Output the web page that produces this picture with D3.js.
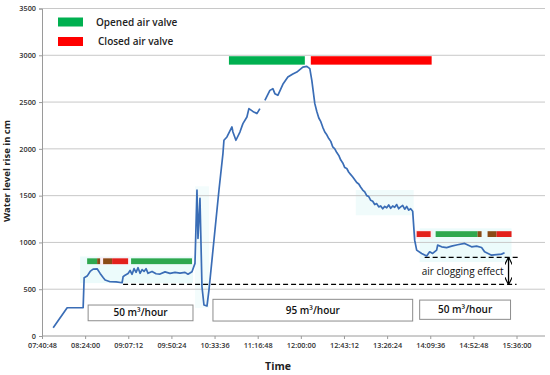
<!DOCTYPE html>
<html>
<head>
<meta charset="utf-8">
<script src="https://cdn.jsdelivr.net/npm/d3@7"></script>
<style>
  body { margin: 0; background: #fff; }
  svg text { font-family: "Open Sans", "Liberation Sans", sans-serif; }
</style>
</head>
<body>
<div id="chart"></div>
<script>
// measured water level (time of day, cm); null marks the gap in the record
const lineTimes = ["07:52","08:06","08:22","08:23","08:26","08:29","08:32","08:36","08:39","08:42","08:44","08:49","08:55","09:01","09:02","09:04","09:07",
  "09:09","09:11","09:13","09:15","09:17","09:19","09:21","09:23","09:25","09:27","09:31","09:35","09:39","09:44","09:49","09:54","09:59","10:04","10:07","10:11","10:14",
  "10:16","10:17","10:19","10:21","10:23","10:26","10:28","10:38","10:42","10:43","10:46","10:51","10:52","10:55","10:59","11:02","11:06","11:08","11:12","11:16","11:19","11:21",
  "11:24","11:29","11:32","11:34","11:37","11:42","11:47","11:52","11:56","12:02","12:06","12:09","12:11","12:14",
  "12:16","12:18","12:20","12:22","12:24","12:26","12:28","12:30","12:32","12:34","12:36","12:38","12:40","12:42","12:44","12:46","12:48","12:50","12:52","12:54","12:56","12:58","13:00","13:02",
  "13:04","13:06","13:08","13:10","13:12","13:14","13:16","13:18","13:20","13:22","13:24","13:26","13:28","13:30","13:32","13:34","13:36","13:38","13:40","13:42","13:44","13:46","13:48","13:50","13:52",
  "13:54","13:56","14:01","14:06","14:09","14:12","14:16","14:17","14:21","14:26","14:31",
  "14:37","14:44","14:51","14:56","15:01","15:04","15:08","15:11","15:16","15:21","15:24"];
const lineValues = [89,302,302,622,640,690,715,718,669,625,598,580,578,569,633,650,669,
  700,660,720,680,730,670,710,690,720,670,690,665,662,685,670,680,672,680,660,686,776,
  1558,1043,1470,526,331,320,491,1558,1950,2092,2127,2234,2180,2092,2180,2270,2340,2430,2400,2377,2430,null,
  2519,2625,2643,2590,2572,2690,2767,2800,2821,2874,2881,2857,2732,2483,
  2400,2330,2290,2230,2180,2150,2110,2080,2020,2000,1960,1930,1880,1850,1800,1790,1750,1725,1700,1670,1640,1625,1590,1560,
  1540,1500,1490,1450,1440,1405,1415,1380,1390,1360,1385,1370,1400,1365,1390,1375,1405,1360,1380,1395,1355,1385,1345,1360,1334,
  1024,918,882,854,900,882,918,971,953,945,960,
  975,989,953,960,946,900,880,864,870,875,889];

// air valve state bars
const valveStarts = ["10:48","12:10","08:26","08:36","08:42","08:51","09:10","13:56","14:15","14:57","15:07","15:16"];
const valveEnds   = ["12:04","14:11","08:36","08:39","08:51","09:07","10:11","14:10","14:57","15:01","15:16","15:31"];
const valveStates = ["open","closed","open","switch","switch","closed","open","closed","open","switch","switch","closed"];
const valveLevels = [2945,2945,797,797,797,797,797,1087,1087,1087,1087,1087];

// flow rate labels
const flowLabels = ["50 m³/hour","95 m³/hour","50 m³/hour"];
const flowStarts = ["08:27","10:32","13:59"];
const flowEnds   = ["10:12","13:52","15:30"];

const yTicks = [0,500,1000,1500,2000,2500,3000,3500];
const xTickLabels = ["07:40:48","08:24:00","09:07:12","09:50:24","10:33:36","11:16:48","12:00:00","12:43:12","13:26:24","14:09:36","14:52:48","15:36:00"];

const toMin = s => { const p = s.split(":").map(Number); return p[0]*60 + p[1] + (p[2] || 0)/60; };

const width = 550, height = 375;
const margin = { top: 8.5, right: 5, bottom: 39, left: 42 };
const W = width - margin.left - margin.right, H = height - margin.top - margin.bottom;

const svg = d3.select("#chart").append("svg").attr("width", width).attr("height", height);
const g = svg.append("g").attr("transform", `translate(${margin.left},${margin.top})`);

const x = d3.scaleLinear().domain([toMin("07:40:48"), toMin("07:40:48") + 43.2*11.66]).range([0, W]);
const y = d3.scaleLinear().domain([0, 3500]).range([H, 0]);

const colors = { open: "#2ea84f", closed: "#e3201b", switch: "#8a4b16" };

// faint highlight areas
const hl = [["08:19","10:12",565,850,"#ecfbfb"],["10:14","10:28",300,1600,"#f3fcfc"],["12:55","13:53",1290,1560,"#f0fbfb"],["13:59","15:31",790,1150,"#ecfbfb"],["08:39","09:08",760,840,"#fcebf4"],["13:54","14:12",1040,1130,"#fcecf2"]];
g.selectAll("rect.hl").data(hl).join("rect").attr("class","hl")
  .attr("x", d => x(toMin(d[0]))).attr("width", d => x(toMin(d[1])) - x(toMin(d[0])))
  .attr("y", d => y(d[3])).attr("height", d => y(d[2]) - y(d[3]))
  .attr("fill", d => d[4]);

// gridlines
g.selectAll("line.grid").data(yTicks.slice(1)).join("line").attr("class","grid")
  .attr("x1", 0).attr("x2", W).attr("y1", d => y(d)).attr("y2", d => y(d))
  .attr("stroke", "#c8c8c8").attr("stroke-width", 1);

// axes
const yAxis = g.append("g").call(d3.axisLeft(y).tickValues(yTicks).tickSize(3).tickFormat(d3.format("d")));
const xTickVals = xTickLabels.map(toMin);
const xAxis = g.append("g").attr("transform", `translate(0,${H})`)
  .call(d3.axisBottom(x).tickValues(xTickVals).tickSize(3).tickFormat((d, i) => xTickLabels[i]));
[yAxis, xAxis].forEach(a => {
  a.select(".domain").attr("stroke", "#9a9a9a");
  a.selectAll(".tick line").attr("stroke", "#9a9a9a");
  a.selectAll("text").attr("font-size", 7.3).attr("font-weight", 600).attr("fill", "#333");
});
xAxis.select(".domain").attr("d", `M0,0H${W}`);
yAxis.selectAll("text").attr("x", -6);
xAxis.selectAll("text").attr("y", 7);

// valve bars
g.selectAll("rect.valve").data(valveStarts).join("rect").attr("class","valve")
  .attr("x", (d, i) => x(toMin(d)))
  .attr("width", (d, i) => x(toMin(valveEnds[i])) - x(toMin(d)))
  .attr("y", (d, i) => y(valveLevels[i] + (i < 2 ? 45 : 33)))
  .attr("height", (d, i) => y(0) - y(i < 2 ? 90 : 62))
  .attr("fill", (d, i) => i < 2 ? (valveStates[i] === "open" ? "#00b050" : "#ff0000") : colors[valveStates[i]]);

// dashed reference lines
const dashes = [["14:04","15:39",840],["09:02","15:36",552]];
g.selectAll("line.dash").data(dashes).join("line").attr("class","dash")
  .attr("x1", d => x(toMin(d[0]))).attr("x2", d => x(toMin(d[1])))
  .attr("y1", d => y(d[2])).attr("y2", d => y(d[2]))
  .attr("stroke", "#000").attr("stroke-width", 1.4).attr("stroke-dasharray", "5,3");

// double arrow for clogging effect
svg.append("defs").append("marker").attr("id", "ah").attr("viewBox", "0 0 10 10")
  .attr("refX", 9).attr("refY", 5).attr("markerWidth", 6).attr("markerHeight", 6).attr("orient", "auto-start-reverse")
  .append("path").attr("d", "M0,0L10,5L0,10").attr("fill", "none").attr("stroke", "#000").attr("stroke-width", 1.5);
g.append("line").attr("x1", x(toMin("15:28"))).attr("x2", x(toMin("15:28")))
  .attr("y1", y(835)).attr("y2", y(557)).attr("stroke", "#000").attr("stroke-width", 1.3)
  .attr("marker-start", "url(#ah)").attr("marker-end", "url(#ah)");
g.append("text").attr("x", x(toMin("14:42"))).attr("y", y(690)).attr("dy", "0.35em")
  .attr("text-anchor", "middle").attr("font-size", 10).attr("fill", "#111").text("air clogging effect");

// water level line
const pts = lineTimes.map((t, i) => ({ t: toMin(t), v: lineValues[i] }));
g.append("path").datum(pts)
  .attr("fill", "none").attr("stroke", "#3a6db6").attr("stroke-width", 1.7).attr("stroke-linejoin", "round")
  .attr("d", d3.line().defined(d => d.v !== null).x(d => x(d.t)).y(d => y(d.v)));

// flow rate boxes
const boxTop = [331, 392, 384], boxBot = [163, 160, 178];
flowLabels.forEach((lab, i) => {
  const x0 = x(toMin(flowStarts[i])), x1 = x(toMin(flowEnds[i]));
  g.append("rect").attr("x", x0).attr("y", y(boxTop[i])).attr("width", x1 - x0).attr("height", y(boxBot[i]) - y(boxTop[i]))
    .attr("fill", "#fff").attr("stroke", "#8c8c8c").attr("stroke-width", 1);
  g.append("text").attr("x", (x0 + x1) / 2).attr("y", (y(boxTop[i]) + y(boxBot[i])) / 2).attr("dy", "0.35em")
    .attr("text-anchor", "middle").attr("font-size", 10).attr("font-weight", 600).attr("fill", "#111").text(lab);
});

// legend
const legend = svg.append("g");
[["Opened air valve", "#00b050", 22], ["Closed air valve", "#ff0000", 41.5]].forEach((d, i) => {
  legend.append("rect").attr("x", 58).attr("y", d[2] - 4.5).attr("width", 25).attr("height", 9).attr("fill", d[1]);
  legend.append("text").attr("x", i ? 98 : 96).attr("y", d[2]).attr("dy", "0.35em")
    .attr("font-size", 10).attr("font-weight", 600).attr("fill", "#222").text(d[0]);
});

// axis titles
svg.append("text").attr("transform", "translate(10,171) rotate(-90)").attr("text-anchor", "middle")
  .attr("font-size", 9.5).attr("font-weight", 700).attr("fill", "#222").text("Water level rise in cm");
svg.append("text").attr("x", 278).attr("y", 370).attr("text-anchor", "middle")
  .attr("font-size", 10.5).attr("font-weight", 700).attr("fill", "#222").text("Time");
</script>
</body>
</html>
